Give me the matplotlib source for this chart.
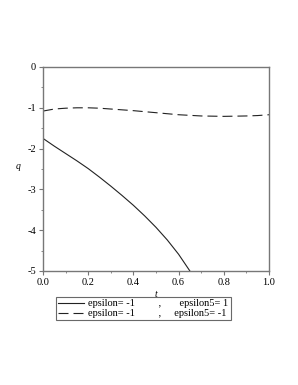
import matplotlib
matplotlib.use("Agg")
import matplotlib.pyplot as plt
import numpy as np

# values
t_solid = [0.0, 0.05, 0.1, 0.15, 0.2, 0.25, 0.3, 0.35, 0.4, 0.45, 0.5, 0.55, 0.6, 0.65]
q_solid = [-1.75, -1.94, -2.12, -2.30, -2.49, -2.70, -2.92, -3.15, -3.39, -3.65, -3.93, -4.24, -4.59, -5.0]

t_dash = [0.0, 0.05, 0.1, 0.15, 0.2, 0.25, 0.3, 0.4, 0.5, 0.6, 0.7, 0.8, 0.9, 0.95, 1.0]
q_dash = [-1.08, -1.03, -1.01, -1.00, -1.00, -1.01, -1.03, -1.07, -1.12, -1.17, -1.20, -1.21, -1.20, -1.19, -1.17]

labels = ["epsilon= -1", "epsilon= -1"]
labels5 = ["epsilon5= 1", "epsilon5= -1"]

plt.rcParams['font.family'] = ['Liberation Serif', 'DejaVu Serif']
grey = '#777777'

fig = plt.figure(figsize=(2.98, 3.85), dpi=100)
ax = fig.add_axes([43 / 298, 114 / 385, 226 / 298, 204 / 385])

ax.plot(t_solid, q_solid, color='#222222', lw=0.8, label=labels[0] + " " * 9 + "," + " " * 7 + labels5[0])
ax.plot(t_dash, q_dash, color='#222222', lw=0.8, dashes=(9, 4.5), label=labels[1] + " " * 9 + "," + " " * 5 + labels5[1])

ax.set_xlim(0, 1)
ax.set_ylim(-5, 0)
ax.set_xticks(np.arange(0, 1.01, 0.2))
ax.set_xticks(np.arange(0, 1.01, 0.1), minor=True)
ax.set_yticks(np.arange(-5, 0.1, 1))
ax.set_yticks(np.arange(-5, 0.1, 0.5), minor=True)
ax.set_xticklabels(["0.0", "0.2", "0.4", "0.6", "0.8", "1.0"])
ax.set_yticklabels(["-5", "-4", "-3", "-2", "-1", "0"])
ax.tick_params(labelsize=7.5, color=grey, length=3, width=0.8, pad=2)
ax.tick_params(which='minor', color=grey, length=1.5, width=0.6)
for s in ax.spines.values():
    s.set_color(grey)
    s.set_linewidth(1.0)

ax.set_xlabel("t", fontsize=7, style='italic', labelpad=2)
ax.set_ylabel("q", fontsize=7, style='italic', rotation=0, labelpad=12)
ax.yaxis.set_label_coords(-0.11, 0.49)

leg = fig.legend(loc='upper left', bbox_to_anchor=(56 / 298, 1 - 297 / 385),
                 fontsize=7.5, frameon=True, fancybox=False, handlelength=2.5,
                 handletextpad=0.4, borderpad=0.2, labelspacing=0.05,
                 borderaxespad=0)
leg.get_frame().set_edgecolor('#444444')
leg.get_frame().set_linewidth(0.8)

fig.savefig("out.png", dpi=100)
